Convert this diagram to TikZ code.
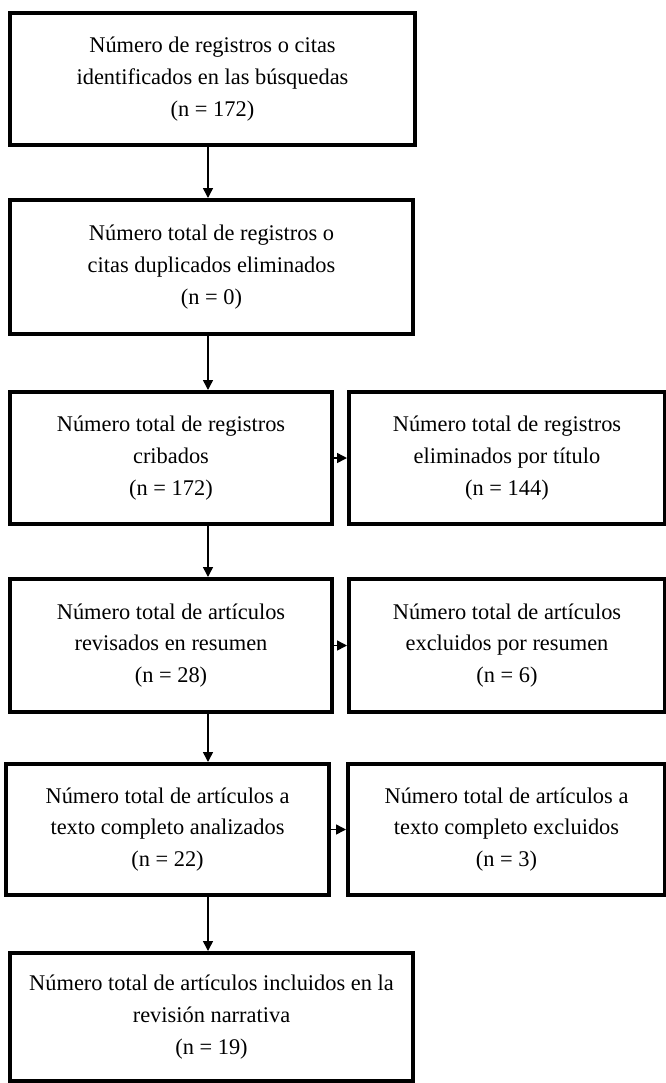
\documentclass[tikz,border=0pt]{standalone}
\usepackage{fontspec}
\setmainfont{Liberation Serif}
\usetikzlibrary{positioning,arrows.meta}

\begin{document}
\begin{tikzpicture}[->,>={Triangle[length=5pt,width=5pt]},line width=0.75pt]
  \tikzstyle{caja}=[draw,rectangle,line width=2pt,align=center,inner sep=0pt,font=\fontsize{11.2}{15.8}\selectfont]
  \useasboundingbox (0,0) rectangle (332.5pt,-541.5pt);
  \coordinate (eje) at (104pt,0);

  \node[caja,minimum width=202.5pt,minimum height=66pt,anchor=north west] (A) at (4pt,-5.5pt)
    {Número de registros o citas\\identificados en las búsquedas\\(n = 172)};
  \node[caja,minimum width=201.5pt,minimum height=67pt] (B) [below=25.5pt of A.south west,anchor=north west]
    {Número total de registros o\\citas duplicados eliminados\\(n = 0)};
  \node[caja,minimum width=161pt,minimum height=66pt] (C) [below=27pt of B.south west,anchor=north west]
    {Número total de registros\\cribados\\(n = 172)};
  \node[caja,minimum width=158pt,minimum height=66pt] (D) [right=6.5pt of C]
    {Número total de registros\\eliminados por título\\(n = 144)};
  \node[caja,minimum width=161pt,minimum height=66.5pt] (E) [below=25.5pt of C.south west,anchor=north west]
    {Número total de artículos\\revisados en resumen\\(n = 28)};
  \node[caja,minimum width=158pt,minimum height=66.5pt] (F) [right=6.5pt of E]
    {Número total de artículos\\excluidos por resumen\\(n = 6)};
  \node[caja,minimum width=161.5pt,minimum height=65.5pt] (G) [below=24pt of E.south west,anchor=north west,xshift=-2pt]
    {Número total de artículos a\\texto completo analizados\\(n = 22)};
  \node[caja,minimum width=158.5pt,minimum height=65.5pt] (H) [right=7.5pt of G]
    {Número total de artículos a\\texto completo excluidos\\(n = 3)};
  \node[caja,minimum width=201.5pt,minimum height=64pt] (I) [below=27pt of G.south west,anchor=north west,xshift=2pt]
    {Número total de artículos incluidos en la\\revisión narrativa\\(n = 19)};

  \path
    (A.south -| eje) edge (B.north -| eje)
    (B.south -| eje) edge (C.north -| eje)
    (C.south -| eje) edge (E.north -| eje)
    (E.south -| eje) edge (G.north -| eje)
    (G.south -| eje) edge (I.north -| eje)
    (C) edge (D)
    (E) edge (F)
    (G) edge (H);
\end{tikzpicture}
\end{document}
